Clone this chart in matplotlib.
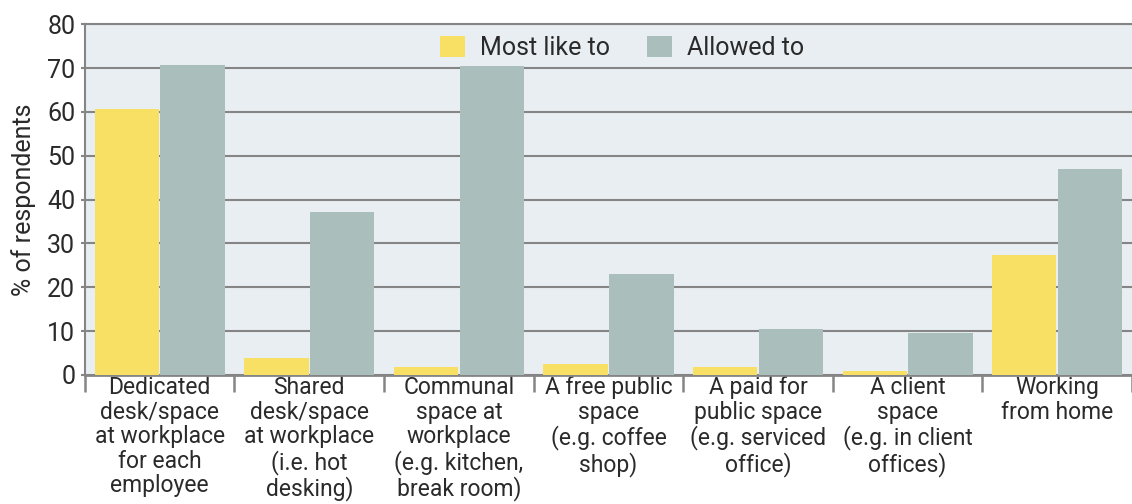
import numpy as np
import matplotlib.pyplot as plt

categories = [
    "Dedicated\ndesk/space\nat workplace\nfor each\nemployee",
    "Shared\ndesk/space\nat workplace\n(i.e. hot\ndesking)",
    "Communal\nspace at\nworkplace\n(e.g. kitchen,\nbreak room)",
    "A free public\nspace\n(e.g. coffee\nshop)",
    "A paid for\npublic space\n(e.g. serviced\noffice)",
    "A client\nspace\n(e.g. in client\noffices)",
    "Working\nfrom home",
]
most_like = [60.6, 3.9, 1.8, 2.5, 1.8, 0.9, 27.3]
allowed = [70.8, 37.1, 70.4, 23.0, 10.5, 9.6, 46.9]

YELLOW = "#f8e064"
GREY = "#aabfbc"
BG = "#e9eef2"
LINE = "#858585"
TEXT = "#2a2a2a"

plt.rcParams["font.family"] = ["Roboto", "DejaVu Sans"]

fig = plt.figure(figsize=(11.32, 5.04), dpi=100)
ax = fig.add_axes([0.075, 0.256, 0.925, 0.696])
ax.set_facecolor(BG)

x = np.arange(len(categories))
w = 0.43
ax.bar(x - 0.22, most_like, w, color=YELLOW, label="Most like to", zorder=3)
ax.bar(x + 0.22, allowed, w, color=GREY, label="Allowed to", zorder=3)

ax.set_ylim(0, 80)
ax.set_xlim(-0.5, 6.41)
ax.set_yticks(range(0, 81, 10))
ax.yaxis.grid(True, color=LINE, linewidth=1.5, zorder=1)
ax.set_axisbelow(True)

ax.set_xticks(np.arange(-0.5, 7, 1))
ax.set_xticklabels([])
ax.set_xticks(x, minor=True)
ax.set_xticklabels(categories, minor=True, fontsize=16.5, color=TEXT, linespacing=1.08)
ax.tick_params(axis="x", which="major", length=12, width=1.8, color=LINE)
ax.tick_params(axis="x", which="minor", length=0, pad=1)
ax.tick_params(axis="y", length=3, width=1.5, color=LINE, labelsize=18, labelcolor=TEXT, pad=4)

for side in ["left", "top", "bottom"]:
    ax.spines[side].set_color(LINE)
    ax.spines[side].set_linewidth(1.5)
ax.spines["bottom"].set_linewidth(2)
ax.spines["right"].set_visible(False)

ax.set_ylabel("% of respondents", fontsize=18, color=TEXT, labelpad=8)

ax.legend(loc="upper center", bbox_to_anchor=(0.513, 1.031), ncol=2, frameon=False,
          fontsize=18, handlelength=1.0, handleheight=0.9, columnspacing=1.5,
          labelcolor=TEXT, handletextpad=0.6)

fig.savefig("out.png", dpi=100)
